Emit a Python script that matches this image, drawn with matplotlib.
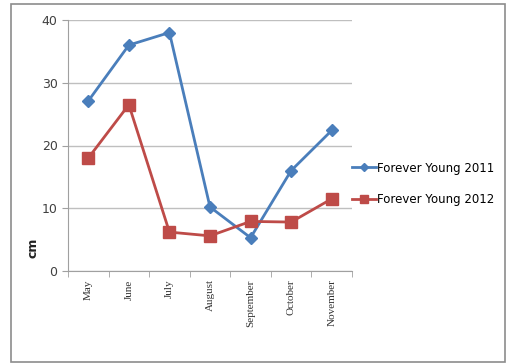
import matplotlib
matplotlib.use("Agg")
import matplotlib.pyplot as plt
from matplotlib.patches import Rectangle

# dades
months = ["May", "June", "July", "August", "September", "October", "November"]
fy2011 = [27.1, 36.0, 38.0, 10.2, 5.3, 16.0, 22.4]
fy2012 = [18.0, 26.5, 6.2, 5.6, 7.9, 7.8, 11.5]
yticks = [0, 10, 20, 30, 40]

fig = plt.figure(figsize=(5.07, 3.63), dpi=100)
fig.patch.set_facecolor("white")
fig.patches.append(Rectangle((11/507, 0.002), 494/507, 1 - 3/363 - 0.004,
                             transform=fig.transFigure, fill=False,
                             edgecolor="#8c8c8c", linewidth=1.2))

ax = fig.add_axes([68/507, 1 - 271/363, 284/507, 251/363])
x = range(len(months))
ax.plot(x, fy2011, color="#4a7ebb", marker="D", markersize=6, linewidth=2,
        label="Forever Young 2011")
ax.plot(x, fy2012, color="#be4b48", marker="s", markersize=8, linewidth=2,
        label="Forever Young 2012")

ax.set_xlim(-0.5, len(months) - 0.5)
ax.set_ylim(0, 40)
ax.set_yticks(yticks)
ax.yaxis.grid(True, color="#bfbfbf", linewidth=1)
ax.set_axisbelow(True)
for s in ["top", "right"]:
    ax.spines[s].set_visible(False)
ax.spines["left"].set_color("#a0a0a0")
ax.spines["bottom"].set_color("#a0a0a0")

ax.set_xticks(list(x))
ax.set_xticklabels(months, rotation=90, family="Liberation Serif", fontsize=8,
                   color="#333333")
ax.tick_params(axis="x", length=0, pad=6)
ax.set_xticks([i + 0.5 for i in range(-1, len(months))], minor=True)
ax.tick_params(axis="x", which="minor", length=4, color="#a0a0a0")
ax.tick_params(axis="y", length=4, color="#a0a0a0", labelsize=9,
               labelcolor="#404040")

fig.text(33/507, 1 - 248/363, "cm", rotation=90, fontsize=9, fontweight="bold",
         ha="center", va="center", color="#222222")

ax.legend(loc="center left", bbox_to_anchor=(352/507, 1 - 184/363),
          bbox_transform=fig.transFigure, frameon=False, fontsize=8.5,
          handlelength=2.0, handletextpad=0.15, labelspacing=1.6,
          markerscale=0.7, borderpad=0, borderaxespad=0)

fig.savefig("out.png", dpi=100)
